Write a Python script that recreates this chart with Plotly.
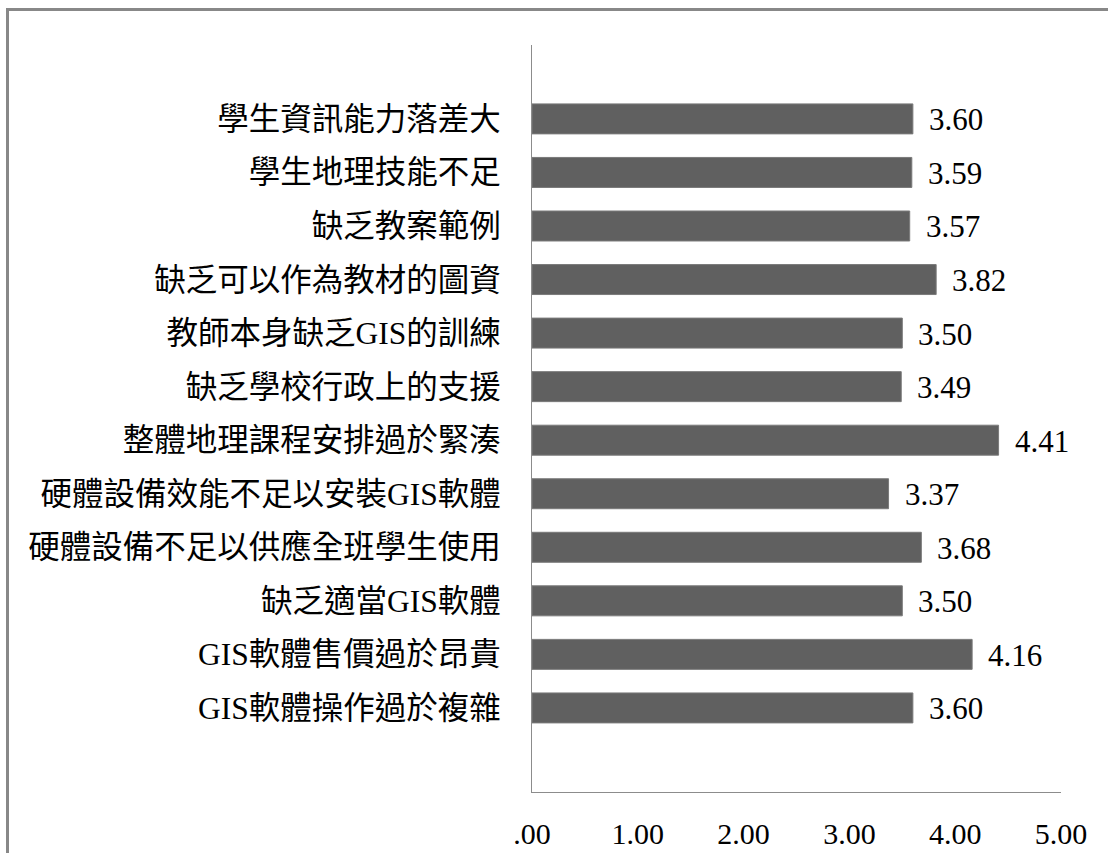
import plotly.graph_objects as go

# Categories listed bottom-to-top
categories = [
    "GIS軟體操作過於複雜",
    "GIS軟體售價過於昂貴",
    "缺乏適當GIS軟體",
    "硬體設備不足以供應全班學生使用",
    "硬體設備效能不足以安裝GIS軟體",
    "整體地理課程安排過於緊湊",
    "缺乏學校行政上的支援",
    "教師本身缺乏GIS的訓練",
    "缺乏可以作為教材的圖資",
    "缺乏教案範例",
    "學生地理技能不足",
    "學生資訊能力落差大",
]
values = [3.60, 4.16, 3.50, 3.68, 3.37, 4.41, 3.49, 3.50, 3.82, 3.57, 3.59, 3.60]
tick_vals = [0, 1, 2, 3, 4, 5]
tick_text = [".00", "1.00", "2.00", "3.00", "4.00", "5.00"]

FONT = "Liberation Serif, Times New Roman, Noto Sans CJK TC, serif"

fig = go.Figure()
fig.add_trace(go.Bar(
    x=values, y=categories, orientation="h",
    marker=dict(color="#606060", line=dict(color="#7a7a7a", width=1)),
    width=0.56, hoverinfo="x+y",
))

for v, c in zip(values, categories):
    fig.add_annotation(x=v, y=c, text=f"{v:.2f}", showarrow=False,
                       xanchor="left", xshift=14, yshift=-1,
                       font=dict(family=FONT, size=31, color="#000000"))

# outer frame
fig.add_shape(type="rect", xref="paper", yref="paper",
              x0=-0.9915, x1=1.2, y0=-0.3, y1=1.0475,
              line=dict(color="#888888", width=3), layer="below")

fig.update_layout(
    width=1108, height=853,
    margin=dict(l=532, r=47, t=45, b=61),
    paper_bgcolor="white", plot_bgcolor="white",
    showlegend=False,
    font=dict(family=FONT, size=31, color="#000000"),
    xaxis=dict(range=[0, 5], tickvals=tick_vals, ticktext=tick_text,
               showgrid=False, zeroline=False, showline=True,
               linecolor="#8c8c8c", linewidth=1, ticks="",
               ticklabelstandoff=15, automargin=False,
               tickfont=dict(family=FONT, size=30, color="#000000")),
    yaxis=dict(type="category", range=[-1.57, 12.38],
               showgrid=False, zeroline=False, showline=True,
               linecolor="#8c8c8c", linewidth=1, ticks="",
               ticklabelstandoff=24, automargin=False,
               tickfont=dict(family=FONT, size=31.5, color="#000000")),
)

fig.write_html("out.html")
